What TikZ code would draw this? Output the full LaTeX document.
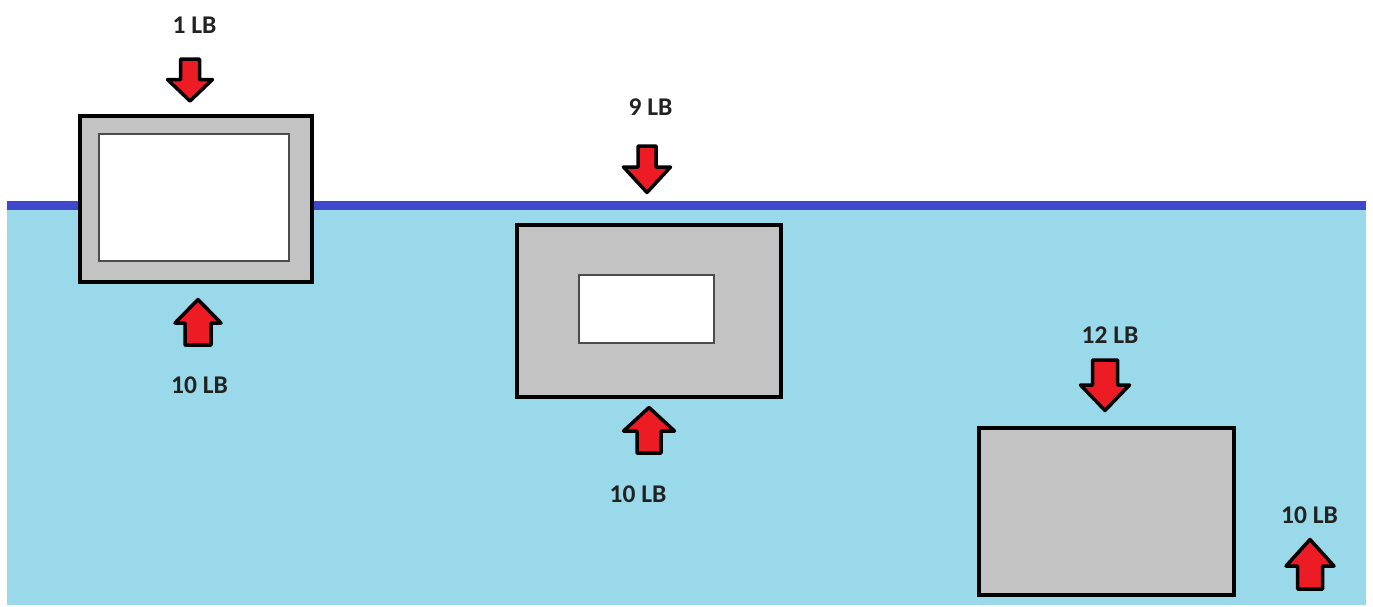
\documentclass[tikz,border=0pt]{standalone}
\usepackage{fontspec}
\setmainfont{Carlito}
\begin{document}
\begin{tikzpicture}[x=1pt,y=-1pt,
  water/.style={fill=waterblue, draw=none},
  surface/.style={fill=surfblue, draw=none},
  block/.style={rectangle, draw=black, line width=4.5pt, fill=blockgray, inner sep=0pt, outer sep=0pt},
  hollow/.style={rectangle, draw=black!70, line width=1.5pt, fill=white, inner sep=0pt, outer sep=0pt},
  forcearrow/.style={fill=arrowred, draw=black, line width=3.5pt, line join=round},
  force/.style={font=\bfseries\fontsize{25.5}{25.5}\selectfont, text=labelgray, inner sep=0pt}]
\definecolor{waterblue}{HTML}{99D9EA}
\definecolor{surfblue}{HTML}{3F48CC}
\definecolor{blockgray}{HTML}{C3C3C3}
\definecolor{arrowred}{HTML}{ED1C24}
\definecolor{labelgray}{HTML}{222222}
\newcommand\forcearrow[6]{% cx, base, tip, head base, shaft half, head half
  \draw[forcearrow] (#1-#5,#2) -- (#1+#5,#2) -- (#1+#5,#4) -- (#1+#6,#4) -- (#1,#3)
    -- (#1-#6,#4) -- (#1-#5,#4) -- cycle;}
\useasboundingbox (0,0) rectangle (1373,606);
\fill[white] (0,0) rectangle (1373,606);
% water and surface
\fill[water] (7,210) rectangle (1366,605);
\fill[surface] (7,201) rectangle (1366,210);
% blocks
\node[block, minimum width=232pt, minimum height=166pt] (b1) at (196,199) {};
\node[hollow, minimum width=190pt, minimum height=127pt] (h1) at (194,197.5) {};
\node[block, minimum width=264pt, minimum height=172pt] (b2) at (649,311) {};
\node[hollow, minimum width=135pt, minimum height=68pt] (h2) at (646.5,309) {};
\node[block, minimum width=255pt, minimum height=167pt] (b3) at (1106.5,511.5) {};
% arrows
\forcearrow{190}{59}{101}{79.5}{9.5}{22.5}
\forcearrow{647}{146}{192.5}{167}{9}{23.5}
\forcearrow{1105}{360}{410.5}{385}{12.5}{24.5}
\forcearrow{198}{345}{299.5}{323}{13}{23}
\forcearrow{649}{453}{407.5}{431}{12}{25.5}
\forcearrow{1310}{589}{539.5}{566}{12.5}{24}
% labels
\node[force] (l1) at (194.5,25.5) {1 LB};
\node[force] (l2) at (650.5,107) {9 LB};
\node[force] (l3) at (1110,335) {12 LB};
\node[force] (l4) at (199.5,385) {10 LB};
\node[force] (l5) at (638,494) {10 LB};
\node[force] (l6) at (1309.5,515) {10 LB};
\end{tikzpicture}
\end{document}
